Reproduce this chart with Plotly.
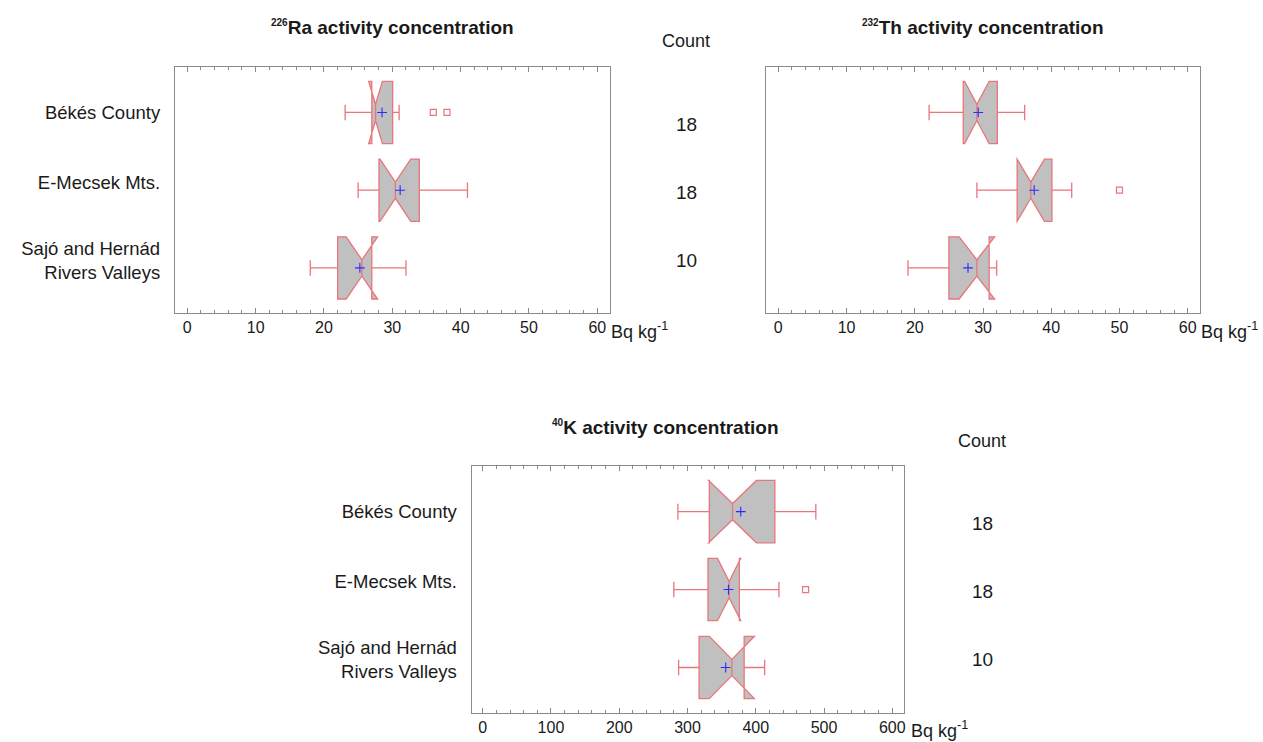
import plotly.graph_objects as go

# ---------------- data ----------------
regions = ["Békés County", "E-Mecsek Mts.", "Sajó and Hernád<br>Rivers Valleys"]
counts = [18, 18, 10]

# 226Ra (Bq/kg)
ra_lower = [23.1, 25.0, 18.0]
ra_q1 = [27.0, 28.05, 22.0]
ra_median = [27.55, 30.45, 25.55]
ra_q3 = [30.05, 33.95, 27.0]
ra_upper = [31.0, 41.0, 32.0]
ra_mean = [28.5, 31.15, 25.25]
ra_notch = [1.0, 2.25, 2.3]
ra_outliers = [36.0, 38.0]
ra_outlier_region = [0, 0]

# 232Th (Bq/kg)
th_lower = [22.1, 29.1, 19.0]
th_q1 = [27.1, 35.0, 25.0]
th_median = [29.1, 37.0, 29.1]
th_q3 = [32.1, 40.1, 30.9]
th_upper = [36.1, 43.0, 32.0]
th_mean = [29.3, 37.5, 27.8]
th_notch = [1.8, 2.0, 2.6]
th_outliers = [50.0]
th_outlier_region = [1]

# 40K (Bq/kg)
k_lower = [286, 280, 287]
k_q1 = [332, 330, 317]
k_median = [366, 361, 365]
k_q3 = [428, 376, 383]
k_upper = [488, 434, 413]
k_mean = [378, 360, 356]
k_notch = [35, 17, 33]
k_outliers = [473]
k_outlier_region = [1]

xticks_small = [0, 10, 20, 30, 40, 50, 60]
xticks_k = [0, 100, 200, 300, 400, 500, 600]

# ---------------- style ----------------
FONT = "Liberation Sans, Arial, sans-serif"
BOX_LINE = "#e8767a"
BOX_FILL = "#c0c0c0"
MEAN_COL = "#2a2aff"
FRAME = "#8a8a8a"
TXT = "#1a1a1a"
W, H = 1263, 742

pos = list(range(len(regions)))
label_pos = [0, 0.9, 1.9]
count_pos = [0.15, 1.03, 1.9]

fig = go.Figure()


def add_panel(ax, lower, q1, med, q3, upper, mean, notch, out_x, out_r):
    xa = "x" + ("" if ax == 1 else str(ax))
    ya = "y" + ("" if ax == 1 else str(ax))
    fig.add_trace(go.Box(
        y=pos, q1=q1, median=med, q3=q3, lowerfence=lower, upperfence=upper,
        notchspan=notch, notched=True, notchwidth=0.37, orientation="h",
        width=0.8, whiskerwidth=0.25, fillcolor=BOX_FILL,
        line=dict(color=BOX_LINE, width=1.3), boxpoints=False,
        hoverinfo="skip", showlegend=False, xaxis=xa, yaxis=ya))
    fig.add_trace(go.Scatter(
        x=mean, y=pos, mode="markers", showlegend=False, hoverinfo="skip",
        marker=dict(symbol="cross-thin", size=7, color=MEAN_COL,
                    line=dict(color=MEAN_COL, width=1.1)),
        xaxis=xa, yaxis=ya))
    fig.add_trace(go.Scatter(
        x=out_x, y=[pos[i] for i in out_r], mode="markers", showlegend=False,
        hoverinfo="skip",
        marker=dict(symbol="square-open", size=6, color=BOX_LINE,
                    line=dict(color=BOX_LINE, width=1.2)),
        xaxis=xa, yaxis=ya))


add_panel(1, ra_lower, ra_q1, ra_median, ra_q3, ra_upper, ra_mean, ra_notch,
          ra_outliers, ra_outlier_region)
add_panel(2, th_lower, th_q1, th_median, th_q3, th_upper, th_mean, th_notch,
          th_outliers, th_outlier_region)
add_panel(3, k_lower, k_q1, k_median, k_q3, k_upper, k_mean, k_notch,
          k_outliers, k_outlier_region)


def xaxis_def(domain, rng, ticks, minor_dt, anchor):
    return dict(domain=domain, range=rng, tickvals=ticks, anchor=anchor,
                showline=True, linecolor=FRAME, linewidth=1.3, mirror="allticks",
                ticks="inside", ticklen=5, tickcolor=FRAME, tickwidth=1,
                minor=dict(dtick=minor_dt, ticks="inside", ticklen=3,
                           tickcolor=FRAME, tickwidth=1, showgrid=False),
                showgrid=False, zeroline=False,
                tickfont=dict(family=FONT, size=16, color=TXT))


def yaxis_def(domain, anchor, show_labels=True):
    return dict(domain=domain, range=[2.58, -0.585], anchor=anchor,
                tickvals=label_pos, ticktext=regions if show_labels else None,
                showticklabels=show_labels,
                showline=True, linecolor=FRAME, linewidth=1.3, mirror=True,
                ticks="", showgrid=False, zeroline=False,
                ticklabelstandoff=10,
                tickfont=dict(family=FONT, size=18.5, color=TXT))


top_dom = [1 - 313 / H, 1 - 67 / H]
bot_dom = [1 - 712.7 / H, 1 - 466 / H]
d1 = [175 / W, 610 / W]
d2 = [765.7 / W, 1200 / W]
d3 = [471.7 / W, 904.3 / W]

fig.update_layout(
    width=W, height=H, margin=dict(l=0, r=0, t=0, b=0),
    paper_bgcolor="white", plot_bgcolor="white",
    font=dict(family=FONT, color=TXT),
    xaxis=xaxis_def(d1, [-1.8, 61.86], xticks_small, 2, "y"),
    yaxis=yaxis_def(top_dom, "x"),
    xaxis2=xaxis_def(d2, [-1.85, 61.8], xticks_small, 2, "y2"),
    yaxis2=yaxis_def(top_dom, "x2", show_labels=False),
    xaxis3=xaxis_def(d3, [-16.1, 617.6], xticks_k, 20, "y3"),
    yaxis3=yaxis_def(bot_dom, "x3"),
)

ann = []
titles = [
    ("226", "Ra", (d1[0] + d1[1]) / 2, 1 - 27 / H),
    ("232", "Th", (d2[0] + d2[1]) / 2, 1 - 28 / H),
    ("40", "K", 665.5 / W, 1 - 428 / H),
]
for sup, el, tx, ty in titles:
    ann.append(dict(
        text="<b><sup><span style='font-size:10px'>" + sup + "</span></sup>" + el +
             " activity concentration</b>",
        x=tx, y=ty, xref="paper", yref="paper", xanchor="center", yanchor="middle",
        showarrow=False, font=dict(family=FONT, size=19, color=TXT)))

# units
for ux, uy in [(609 / W, 1 - 331 / H), (1199 / W, 1 - 331 / H), (909 / W, 1 - 729 / H)]:
    ann.append(dict(text="Bq kg<sup>-1</sup>", x=ux, y=uy, xref="paper", yref="paper",
                    xanchor="left", yanchor="middle", showarrow=False,
                    font=dict(family=FONT, size=18, color=TXT)))

# count column
for cx, cy, yref in [(686 / W, 1 - 41 / H, "y"), (982 / W, 1 - 441 / H, "y3")]:
    ann.append(dict(text="Count", x=cx, y=cy, xref="paper", yref="paper",
                    xanchor="center", yanchor="middle", showarrow=False,
                    font=dict(family=FONT, size=18, color=TXT)))
    for c, p in zip(counts, count_pos):
        ann.append(dict(text=str(c), x=cx, y=p, xref="paper", yref=yref,
                        xanchor="center", yanchor="middle", showarrow=False,
                        font=dict(family=FONT, size=19, color=TXT)))

fig.update_layout(annotations=ann)
fig.write_html("out.html")
